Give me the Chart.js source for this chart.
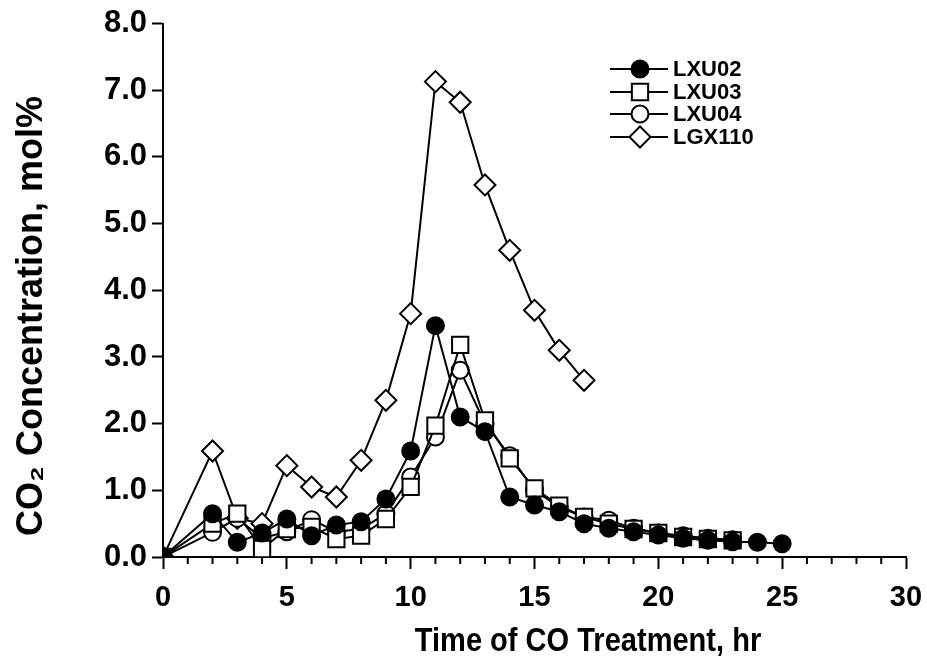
<!DOCTYPE html>
<html lang="en">
<head>
<meta charset="UTF-8">
<title>CO2 Concentration</title>
<script src="https://cdn.jsdelivr.net/npm/chart.js"></script>
<style>
  body { margin: 0; background: #fff; }
  #wrap { width: 927px; height: 665px; position: relative; }
</style>
</head>
<body>
<div id="wrap"><canvas id="myChart"></canvas></div>
<script>
// data
const seriesNames = ['LXU02', 'LXU03', 'LXU04', 'LGX110'];

const timeLXU02 = [0, 2, 3, 4, 5, 6, 7, 8, 9, 10, 11, 12, 13, 14, 15, 16, 17, 18, 19, 20, 21, 22, 23, 24, 25];
const co2LXU02 = [0, 0.65, 0.22, 0.36, 0.57, 0.32, 0.48, 0.53, 0.87, 1.59, 3.47, 2.1, 1.88, 0.9, 0.78, 0.68, 0.5, 0.43, 0.38, 0.33, 0.28, 0.25, 0.23, 0.22, 0.2];

const timeLXU03 = [0, 2, 3, 4, 5, 6, 7, 8, 9, 10, 11, 12, 13, 14, 15, 16, 17, 18, 19, 20, 21, 22, 23];
const co2LXU03 = [0, 0.5, 0.65, 0.12, 0.42, 0.45, 0.27, 0.32, 0.57, 1.05, 1.97, 3.18, 2.05, 1.48, 1.03, 0.77, 0.6, 0.5, 0.42, 0.36, 0.3, 0.27, 0.25];

const timeLXU04 = [0, 2, 3, 4, 5, 6, 7, 8, 9, 10, 11, 12, 13, 14, 15, 16, 17, 18, 19, 20, 21, 22, 23];
const co2LXU04 = [0, 0.37, 0.58, 0.28, 0.38, 0.56, 0.38, 0.42, 0.65, 1.2, 1.8, 2.8, 2.0, 1.52, 1.0, 0.75, 0.6, 0.55, 0.43, 0.36, 0.32, 0.28, 0.26];

const timeLGX110 = [0, 2, 3, 4, 5, 6, 7, 8, 9, 10, 11, 12, 13, 14, 15, 16, 17];
const co2LGX110 = [0, 1.59, 0.58, 0.5, 1.37, 1.05, 0.9, 1.45, 2.35, 3.65, 7.13, 6.82, 5.58, 4.6, 3.7, 3.1, 2.65];

const xTicks = [0, 5, 10, 15, 20, 25, 30];
const yTicks = [0, 1, 2, 3, 4, 5, 6, 7, 8];
const xTitle = 'Time of CO Treatment, hr';
const yTitle = 'CO\u2082 Concentration, mol%';

function pts(xs, ys) {
  return xs.map((x, i) => ({ x: x, y: ys[i] }));
}

const markers = [
  { style: 'circle', fill: '#000', radius: 8.5 },
  { style: 'rect', fill: '#fff', radius: 11.5 },
  { style: 'circle', fill: '#fff', radius: 8.5 },
  { style: 'rectRot', fill: '#fff', radius: 10.5 }
];
const allData = [
  pts(timeLXU02, co2LXU02),
  pts(timeLXU03, co2LXU03),
  pts(timeLXU04, co2LXU04),
  pts(timeLGX110, co2LGX110)
];

const datasets = seriesNames.map((name, i) => ({
  label: name,
  data: allData[i],
  showLine: true,
  borderColor: '#000',
  borderWidth: 2,
  pointStyle: markers[i].style,
  pointRadius: markers[i].radius,
  pointBackgroundColor: markers[i].fill,
  pointBorderColor: '#000',
  pointBorderWidth: 2
}));

// minor x ticks, axis titles and legend (line through marker)
const extras = {
  id: 'extras',
  afterDraw(chart) {
    const ctx = chart.ctx;
    const xs = chart.scales.x;
    const bottom = chart.chartArea.bottom;
    ctx.save();
    ctx.strokeStyle = '#000';
    ctx.lineWidth = 2;
    for (let v = 1; v < 30; v++) {
      if (v % 5 == 0) continue;
      const px = xs.getPixelForValue(v);
      ctx.beginPath();
      ctx.moveTo(px, bottom);
      ctx.lineTo(px, bottom + 7);
      ctx.stroke();
    }

    // titles
    ctx.fillStyle = '#000';
    ctx.textAlign = 'center';
    ctx.textBaseline = 'middle';
    ctx.save();
    ctx.translate(588, 642);
    ctx.scale(0.88, 1);
    ctx.font = 'bold 33px "Liberation Sans", Arial, sans-serif';
    ctx.fillText(xTitle, 0, 0);
    ctx.restore();

    ctx.save();
    ctx.translate(32, 316);
    ctx.rotate(-Math.PI / 2);
    ctx.font = 'bold 36px "Liberation Sans", Arial, sans-serif';
    ctx.fillText(yTitle, 0, 0);
    ctx.restore();

    // legend
    const rowY = [69, 92, 114, 137];
    chart.data.datasets.forEach((ds, i) => {
      const y = rowY[i];
      ctx.strokeStyle = '#000';
      ctx.lineWidth = 2;
      ctx.beginPath();
      ctx.moveTo(610, y);
      ctx.lineTo(668, y);
      ctx.stroke();
      ctx.fillStyle = ds.pointBackgroundColor;
      Chart.helpers.drawPoint(ctx, {
        pointStyle: ds.pointStyle,
        radius: ds.pointRadius,
        borderWidth: 2
      }, 640, y);
      ctx.fillStyle = '#000';
      ctx.font = 'bold 22px "Liberation Sans", Arial, sans-serif';
      ctx.textBaseline = 'middle';
      ctx.textAlign = 'left';
      ctx.fillText(ds.label, 673, y + 1);
    });
    ctx.restore();
  }
};

const ctx = document.getElementById('myChart');
new Chart(ctx, {
  type: 'scatter',
  data: { datasets: datasets },
  plugins: [extras],
  options: {
    responsive: true,
    maintainAspectRatio: false,
    animation: false,
    layout: { padding: { left: 0, top: 21, right: 21, bottom: 0 } },
    plugins: {
      legend: { display: false },
      tooltip: { enabled: false }
    },
    scales: {
      x: {
        type: 'linear',
        min: 0,
        max: 30,
        afterBuildTicks: (scale) => { scale.ticks = xTicks.map(v => ({ value: v })); },
        afterFit: (scale) => {
          scale.height = 108;
          scale.paddingLeft = 0;
          scale.paddingRight = 0;
        },
        ticks: {
          color: '#000',
          padding: 12,
          maxRotation: 0,
          font: { family: '"Liberation Sans", Arial, sans-serif', size: 29, weight: 'bold' }
        },
        grid: { drawOnChartArea: false, tickLength: 12, tickColor: '#000', tickWidth: 2 },
        border: { color: '#000', width: 2 }
      },
      y: {
        type: 'linear',
        min: 0,
        max: 8,
        afterBuildTicks: (scale) => { scale.ticks = yTicks.map(v => ({ value: v })); },
        afterFit: (scale) => { scale.width = 163; },
        ticks: {
          color: '#000',
          padding: 5,
          callback: (v) => v.toFixed(1),
          font: { family: '"Liberation Sans", Arial, sans-serif', size: 31, weight: 'bold' }
        },
        grid: { drawOnChartArea: false, tickLength: 11, tickColor: '#000', tickWidth: 2 },
        border: { color: '#000', width: 2 }
      }
    }
  }
});
</script>
</body>
</html>
